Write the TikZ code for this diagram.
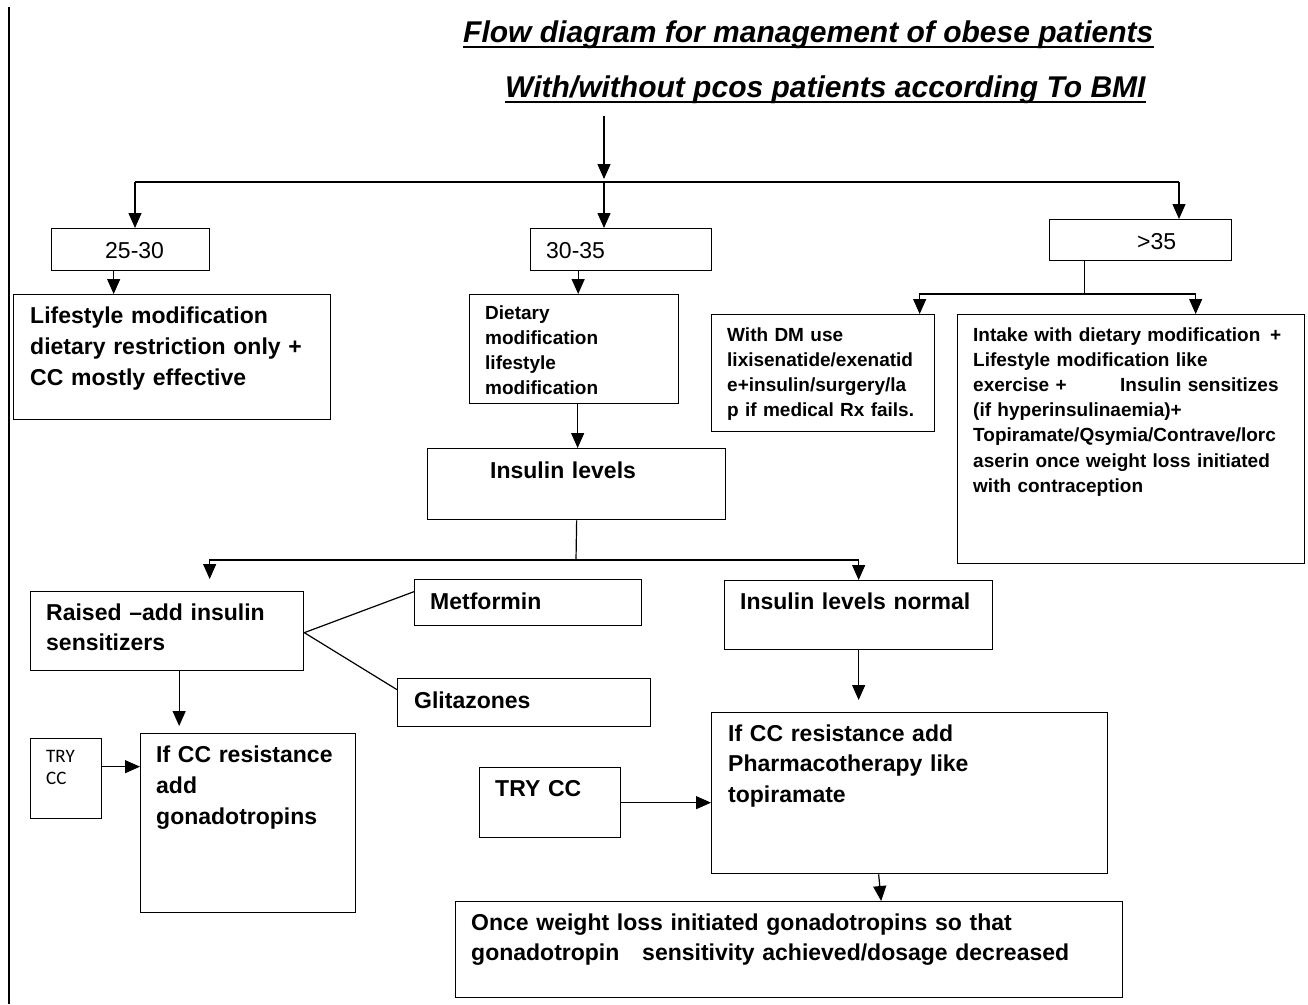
\documentclass[tikz,border=0pt]{standalone}
\usepackage{fontspec}
\setmainfont{Liberation Sans}
\newfontfamily\calibfont{Carlito}
\usetikzlibrary{arrows.meta,calc}
\begin{document}
\begin{tikzpicture}[x=1pt,y=-1pt,
  box/.style={draw=black, line width=1.3pt, inner sep=0pt, anchor=north west},
  ln/.style={line width=1.2pt},
  arr/.style={line width=1.2pt, -{Triangle[length=15pt,width=13pt]}},
  bt/.style={font=\fontsize{23}{31}\selectfont\bfseries, anchor=base west, inner sep=0pt, align=left},
  st/.style={font=\fontsize{19}{25.2}\selectfont\bfseries, anchor=base west, inner sep=0pt, align=left},
  rt/.style={font=\fontsize{23}{28}\selectfont, anchor=base west, inner sep=0pt},
  tt/.style={font=\fontsize{30}{36}\selectfont\bfseries\itshape, anchor=base west, inner sep=0pt},
]
\useasboundingbox[fill=white] (0,0) rectangle (1308,1004);
% page border line
\draw[line width=2.6pt] (9,7) -- (9,1004);

% titles
\node[tt] (t1) at (463,42) {Flow diagram for management of obese patients};
\draw[line width=2.5pt] ([yshift=-5pt]t1.base west) -- ([yshift=-5pt]t1.base east);
\node[tt] (t2) at (505,97) {With/without pcos patients according To BMI};
\draw[line width=2.5pt] ([yshift=-5pt]t2.base west) -- ([yshift=-5pt]t2.base east);

% boxes
\node[box, minimum width=158, minimum height=42] (b2530) at (51,228) {};
\node[box, minimum width=181, minimum height=42] (b3035) at (530,228) {};
\node[box, minimum width=182, minimum height=41] (b35) at (1049,219) {};
\node[box, minimum width=317, minimum height=125] (life) at (13,294) {};
\node[box, minimum width=209, minimum height=109] (diet) at (469,294) {};
\node[box, minimum width=298, minimum height=71] (insul) at (427,448) {};
\node[box, minimum width=223, minimum height=117] (dm) at (711,314) {};
\node[box, minimum width=347, minimum height=249] (intake) at (957,314) {};
\node[box, minimum width=273, minimum height=79] (raised) at (30,591) {};
\node[box, minimum width=227, minimum height=46] (metf) at (414,579) {};
\node[box, minimum width=253, minimum height=48] (glit) at (397,678) {};
\node[box, minimum width=71, minimum height=80] (trys) at (30,738) {};
\node[box, minimum width=215, minimum height=179] (ifccl) at (140,733) {};
\node[box, minimum width=268, minimum height=69] (normal) at (724,580) {};
\node[box, minimum width=396, minimum height=161] (ifccr) at (711,712) {};
\node[box, minimum width=141, minimum height=70] (tryb) at (479,767) {};
\node[box, minimum width=667, minimum height=96] (once) at (455,901) {};

% texts
\node[rt] (x2530) at (105,258) {25-30};
\node[rt] (x3035) at (546,258) {30-35};
\node[rt] (x35) at (1137,249) {>35};
\node[bt, text width=296] (xlife) at (30,323) {Lifestyle modification\\dietary restriction only +\\CC mostly effective};
\node[st, text width=190] (xdiet) at (485,319) {Dietary\\modification\\lifestyle\\modification};
\node[bt, text width=230] (xinsul) at (490,478) {Insulin levels};
\node[st, font=\fontsize{19}{25}\selectfont\bfseries, text width=204] (xdm) at (727,341) {With DM use\\lixisenatide/exenatid\\e+insulin/surgery/la\\p if medical Rx fails.};
\node[st, text width=328] (xintake) at (973,341) {\makebox[297pt][l]{Intake with dietary modification}+\\Lifestyle modification like\\\makebox[147pt][l]{exercise +}Insulin sensitizes\\(if hyperinsulinaemia)+\\Topiramate/Qsymia/Contrave/lorc\\aserin once weight loss initiated\\with contraception};
\node[bt, font=\fontsize{23}{30}\selectfont\bfseries, text width=254] (xraised) at (46,620) {Raised –add insulin\\sensitizers};
\node[bt, text width=205] (xmetf) at (430,609) {Metformin};
\node[bt, text width=230] (xglit) at (414,708) {Glitazones};
\node[font=\calibfont\fontsize{19}{22}\selectfont, anchor=base west, inner sep=0pt, align=left, text width=53] (xtrys) at (46,762) {TRY\\CC};
\node[bt, text width=196] (xifccl) at (156,762) {If CC resistance\\add\\gonadotropins};
\node[bt, text width=250] (xnormal) at (740,609) {Insulin levels normal};
\node[bt, font=\fontsize{23}{30.5}\selectfont\bfseries, text width=376] (xifccr) at (728,741) {If CC resistance add\\Pharmacotherapy like\\topiramate};
\node[bt, text width=123] (xtryb) at (495,796) {TRY CC};
\node[bt, font=\fontsize{23}{30}\selectfont\bfseries, text width=648] (xonce) at (471,930) {Once weight loss initiated gonadotropins so that\\\makebox[171pt][l]{gonadotropin}sensitivity achieved/dosage decreased};

% connectors
\coordinate (top) at (604,116);
\coordinate (j0) at (604,182);
\coordinate (jl) at (135,182);
\coordinate (jr) at (1179,182);
\draw[arr, shorten >=3pt] (top) -- (j0);
\draw[ln] (jl) -- (jr);
\draw[arr] (jl) -- (jl |- b2530.north);
\draw[arr] (j0) -- (j0 |- b3035.north);
\draw[arr] (jr) -- (jr |- b35.north);

\draw[arr] ([xshift=-17pt]b2530.south) coordinate (a1) -- (a1 |- life.north);
\draw[arr] ([xshift=-43pt]b3035.south) coordinate (a2) -- (a2 |- diet.north);
\draw[arr] ([xshift=3.5pt]diet.south) coordinate (a3) -- (a3 |- insul.north);

\coordinate (j2) at (576,560);
\draw[ln] (insul.south) -- (j2);
\draw[arr, shorten >=12pt] (j2) -| ([xshift=42.5pt]raised.north);
\draw[arr] (j2) -| (normal.north);

\draw[ln] ([xshift=-56pt]b35.south) coordinate (k0) -- (k0 |- 0,294) coordinate (k1);
\draw[arr] (k1) -| ([xshift=96.5pt]dm.north);
\draw[arr] (k1) -| ([xshift=64.5pt]intake.north);

\draw[ln] ([yshift=-1.5pt]raised.east) -- ([yshift=11pt]metf.west);
\draw[ln] ([yshift=-1.5pt]raised.east) -- ([yshift=13pt]glit.west);

\draw[arr, shorten >=7pt] ([xshift=12pt]raised.south) coordinate (a4) -- (a4 |- ifccl.north);
\draw[arr] ([yshift=12pt]trys.east) coordinate (a5) -- (a5 -| ifccl.west);

\draw[arr, shorten >=12pt] (normal.south) -- (ifccr.north -| normal.south);
\draw[arr] (tryb.east) -- (tryb.east -| ifccr.west);
\draw[arr] ([xshift=-31pt]ifccr.south) -- ([xshift=92pt]once.north);
\end{tikzpicture}
\end{document}
